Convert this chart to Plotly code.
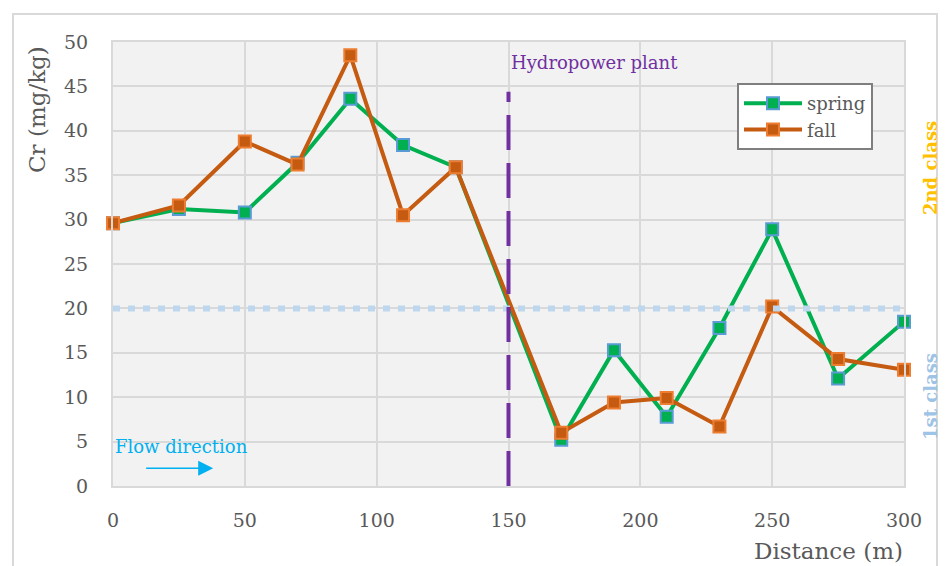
import plotly.graph_objects as go

distance = [0, 25, 50, 70, 90, 110, 130, 170, 190, 210, 230, 250, 275, 300]
spring = [29.6, 31.2, 30.8, 36.4, 43.6, 38.4, 35.9, 5.2, 15.3, 7.8, 17.8, 28.9, 12.1, 18.5]
fall = [29.6, 31.6, 38.8, 36.2, 48.5, 30.5, 35.9, 6.0, 9.4, 9.9, 6.7, 20.2, 14.3, 13.1]
first_class_limit = 20
plant_distance = 150
x_ticks = [0, 50, 100, 150, 200, 250, 300]
y_ticks = [0, 5, 10, 15, 20, 25, 30, 35, 40, 45, 50]

FONT = "DejaVu Serif"
GREY = "#595959"

fig = go.Figure()

fig.add_trace(go.Scatter(
    x=distance, y=spring, name="spring", mode="lines+markers",
    line=dict(color="#00B050", width=4),
    marker=dict(symbol="square", size=12, color="#00B050",
                line=dict(color="#5B9BD5", width=2)),
    cliponaxis=False))
fig.add_trace(go.Scatter(
    x=distance, y=fall, name="fall", mode="lines+markers",
    line=dict(color="#C55A11", width=4),
    marker=dict(symbol="square", size=12, color="#C55A11",
                line=dict(color="#ED7D31", width=2)),
    cliponaxis=False))

# 1st class limit (dotted light blue)
fig.add_trace(go.Scatter(
    x=[0, 300], y=[first_class_limit, first_class_limit], mode="lines",
    line=dict(color="#BDD7EE", width=6, dash="7px,8px"),
    showlegend=False, hoverinfo="skip", cliponaxis=False))
# Hydropower plant (dashed purple)
fig.add_trace(go.Scatter(
    x=[plant_distance, plant_distance], y=[0, 44.4], mode="lines",
    line=dict(color="#7030A0", width=4, dash="35px,13px"),
    showlegend=False, hoverinfo="skip", cliponaxis=False))

fig.add_annotation(x=plant_distance, y=47.7, xref="x", yref="y",
                   text="Hydropower plant", showarrow=False, xanchor="left",
                   font=dict(family=FONT, size=18, color="#7030A0"))
fig.add_annotation(x=0, y=4.4, xref="x", yref="y",
                   text="Flow direction", showarrow=False, xanchor="left",
                   font=dict(family=FONT, size=18, color="#00B0F0"))
fig.add_annotation(x=38, y=2.0, ax=12, ay=2.0, xref="x", yref="y",
                   axref="x", ayref="y", text="", showarrow=True,
                   arrowhead=2, arrowsize=2, arrowwidth=1.5, arrowcolor="#00B0F0")

# axis titles etc. (positions given in page pixels, converted below)
fig.add_annotation(x=37, y=110, xref="paper", yref="paper",
                   text="Cr (mg/kg)", showarrow=False, textangle=-90,
                   font=dict(family=FONT, size=23, color=GREY))
fig.add_annotation(x=828, y=551, xref="paper", yref="paper",
                   text="Distance (m)", showarrow=False,
                   font=dict(family=FONT, size=23, color=GREY))
fig.add_annotation(x=930, y=168, xref="paper", yref="paper",
                   text="<b>2nd class</b>", showarrow=False, textangle=-90,
                   font=dict(family=FONT, size=18, color="#FFC000"))
fig.add_annotation(x=930, y=397, xref="paper", yref="paper",
                   text="<b>1st class</b>", showarrow=False, textangle=-90,
                   font=dict(family=FONT, size=18, color="#9DC3E6"))

W, H = 946, 566
OFF = 8  # page body margin
L = 113 - OFF
T = 42 - OFF
R = W - (904 - OFF)
B = H - (486 - OFF)
pw, ph = W - L - R, H - T - B


def px_x(p):
    return (p - OFF - L) / pw


def px_y(p):
    return (H - B - (p - OFF)) / ph


for a in fig.layout.annotations:
    if a.xref == "paper":
        a.x = px_x(a.x)
        a.y = px_y(a.y)
        a.xanchor = "center"
        a.yanchor = "middle"

fig.add_shape(type="rect", xref="paper", yref="paper",
              x0=px_x(13), x1=px_x(937), y0=px_y(590), y1=px_y(14),
              line=dict(color="#D9D9D9", width=2), layer="below")

fig.update_layout(
    width=W, height=H,
    margin=dict(l=L, r=R, t=T, b=B),
    paper_bgcolor="white", plot_bgcolor="#F2F2F2",
    font=dict(family=FONT, color=GREY),
    legend=dict(x=px_x(737), y=px_y(83), xanchor="left", yanchor="top",
                bgcolor="white", bordercolor="#7F7F7F", borderwidth=2,
                font=dict(family=FONT, size=18, color=GREY),
                itemwidth=58, tracegroupgap=4),
    showlegend=True,
)
fig.update_xaxes(range=[0, 300], tickvals=x_ticks, showgrid=True,
                 gridcolor="#D9D9D9", gridwidth=2, zeroline=False,
                 showline=True, linecolor="#D9D9D9", linewidth=2, mirror=True,
                 tickfont=dict(family=FONT, size=19, color=GREY),
                 ticklabelstandoff=16)
fig.update_yaxes(range=[0, 50], tickvals=y_ticks, showgrid=True,
                 gridcolor="#D9D9D9", gridwidth=2, zeroline=False,
                 showline=True, linecolor="#D9D9D9", linewidth=2, mirror=True,
                 tickfont=dict(family=FONT, size=19, color=GREY),
                 ticklabelstandoff=19)

fig.write_html("out.html")
